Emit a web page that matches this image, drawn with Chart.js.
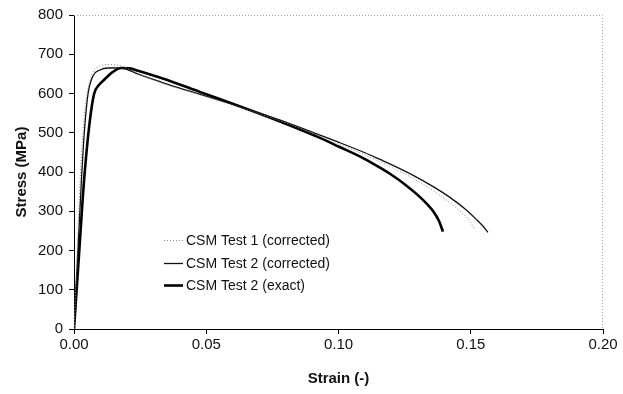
<!DOCTYPE html>
<html>
<head>
<meta charset="utf-8">
<script src="https://cdn.jsdelivr.net/npm/chart.js@4.4.1/dist/chart.umd.min.js"></script>
<style>
    html, body { margin: 0; padding: 0; background: #fff; }
    canvas { display: block; }
</style>
</head>
<body>
<canvas id="stressChart" width="623" height="394"></canvas>
<script>
// Strain (-) / stress (MPa)
const test1Strain = [0, 0.0012, 0.0023, 0.0036, 0.0049, 0.0068, 0.0098, 0.0136, 0.018, 0.022, 0.028, 0.036, 0.0476, 0.06, 0.07, 0.08, 0.093, 0.10, 0.1157, 0.1297, 0.137, 0.145, 0.149, 0.1516];
const test1Stress = [0, 200, 378, 520, 599, 650, 670, 674, 670, 658, 640, 620, 597, 570, 548, 525, 491, 472, 426, 378, 347, 306, 280, 254];

const test2Strain = [0, 0.0014, 0.0028, 0.004, 0.0053, 0.0072, 0.0098, 0.0129, 0.0178, 0.024, 0.030, 0.036, 0.0476, 0.06, 0.07, 0.08, 0.093, 0.10, 0.11, 0.1157, 0.12, 0.127, 0.135, 0.142, 0.148, 0.152, 0.1545, 0.1565];
const test2Stress = [0, 190, 378, 510, 599, 645, 660, 665, 665, 650, 636, 622, 598, 572, 550, 527, 494, 476, 449, 432, 419, 396, 366, 336, 305, 280, 263, 246];

const exactStrain = [0, 0.0019, 0.0038, 0.0058, 0.0076, 0.0095, 0.0117, 0.0147, 0.0178, 0.021, 0.0242, 0.030, 0.0363, 0.0476, 0.06, 0.07, 0.08, 0.093, 0.10, 0.11, 0.1157, 0.12, 0.125, 0.13, 0.1335, 0.136, 0.138, 0.1395];
const exactStress = [0, 190, 378, 520, 599, 622, 637, 655, 665, 664, 658, 646, 632, 604, 574, 549, 523, 487, 465, 433, 411, 393, 369, 341, 318, 298, 275, 248];

const seriesNames = ['CSM Test 1 (corrected)', 'CSM Test 2 (corrected)', 'CSM Test 2 (exact)'];
const strainTicks = [0, 0.05, 0.10, 0.15, 0.20];
const stressTicks = [0, 100, 200, 300, 400, 500, 600, 700, 800];

const fontFamily = '"Liberation Sans", Arial, sans-serif';

function toPoints(xs, ys) {
    return xs.map((x, i) => ({ x: x, y: ys[i] }));
}

// dotted frame on top/right plus the legend inside the plot
const framePlugin = {
    id: 'frameAndLegend',
    afterDatasetsDraw(chart) {
        const ctx = chart.ctx;
        const area = chart.chartArea;
        ctx.save();
        ctx.strokeStyle = '#a0a0a0';
        ctx.lineWidth = 1;
        ctx.setLineDash([1, 2]);
        ctx.beginPath();
        ctx.moveTo(area.left, area.top + 0.5);
        ctx.lineTo(area.right - 0.5, area.top + 0.5);
        ctx.lineTo(area.right - 0.5, area.bottom);
        ctx.stroke();
        ctx.setLineDash([]);

        const rows = [240, 263, 285];
        chart.data.datasets.forEach((ds, i) => {
            const y = rows[i];
            ctx.strokeStyle = ds.borderColor;
            ctx.lineWidth = ds.borderWidth;
            ctx.setLineDash(ds.borderDash || []);
            ctx.beginPath();
            ctx.moveTo(164, y + 0.5);
            ctx.lineTo(183, y + 0.5);
            ctx.stroke();
            ctx.setLineDash([]);
            ctx.fillStyle = '#111';
            ctx.font = '14px ' + fontFamily;
            ctx.textBaseline = 'middle';
            ctx.textAlign = 'left';
            ctx.fillText(ds.label, 186, y + 1);
        });
        ctx.restore();
    }
};

const ctx = document.getElementById('stressChart').getContext('2d');
new Chart(ctx, {
    type: 'scatter',
    data: {
        datasets: [{
            label: seriesNames[0],
            data: toPoints(test1Strain, test1Stress),
            showLine: true,
            borderColor: '#8a8a8a',
            borderWidth: 1,
            borderDash: [1, 2],
            pointRadius: 0,
            cubicInterpolationMode: 'monotone'
        }, {
            label: seriesNames[1],
            data: toPoints(test2Strain, test2Stress),
            showLine: true,
            borderColor: '#111',
            borderWidth: 1.3,
            pointRadius: 0,
            cubicInterpolationMode: 'monotone'
        }, {
            label: seriesNames[2],
            data: toPoints(exactStrain, exactStress),
            showLine: true,
            borderColor: '#000',
            borderWidth: 2.6,
            pointRadius: 0,
            cubicInterpolationMode: 'monotone'
        }]
    },
    options: {
        responsive: false,
        animation: false,
        devicePixelRatio: 1,
        layout: { padding: { top: 14, right: 20, left: 0, bottom: 0 } },
        plugins: {
            legend: { display: false },
            tooltip: { enabled: false }
        },
        scales: {
            x: {
                type: 'linear',
                min: strainTicks[0],
                max: strainTicks[strainTicks.length - 1],
                afterBuildTicks: scale => { scale.ticks = strainTicks.map(v => ({ value: v })); },
                afterFit: scale => { scale.height = 65; },
                ticks: {
                    callback: v => v.toFixed(2),
                    color: '#111',
                    font: { family: fontFamily, size: 15 },
                    padding: 2,
                    maxRotation: 0
                },
                grid: { drawOnChartArea: false, tickLength: 5, color: '#000' },
                border: { color: '#000', width: 1 },
                title: {
                    display: true,
                    text: 'Strain (-)',
                    color: '#111',
                    font: { family: fontFamily, size: 15, weight: 'bold' },
                    padding: { top: 0, bottom: 6 }
                }
            },
            y: {
                min: stressTicks[0],
                max: stressTicks[stressTicks.length - 1],
                afterBuildTicks: scale => { scale.ticks = stressTicks.map(v => ({ value: v })); },
                afterFit: scale => { scale.width = 74; },
                ticks: {
                    color: '#111',
                    font: { family: fontFamily, size: 15 },
                    padding: 6
                },
                grid: { drawOnChartArea: false, tickLength: 5, color: '#000' },
                border: { color: '#000', width: 1 },
                title: {
                    display: true,
                    text: 'Stress (MPa)',
                    color: '#111',
                    font: { family: fontFamily, size: 15, weight: 'bold' },
                    padding: { top: 13, bottom: 0 }
                }
            }
        }
    },
    plugins: [framePlugin]
});
</script>
</body>
</html>
